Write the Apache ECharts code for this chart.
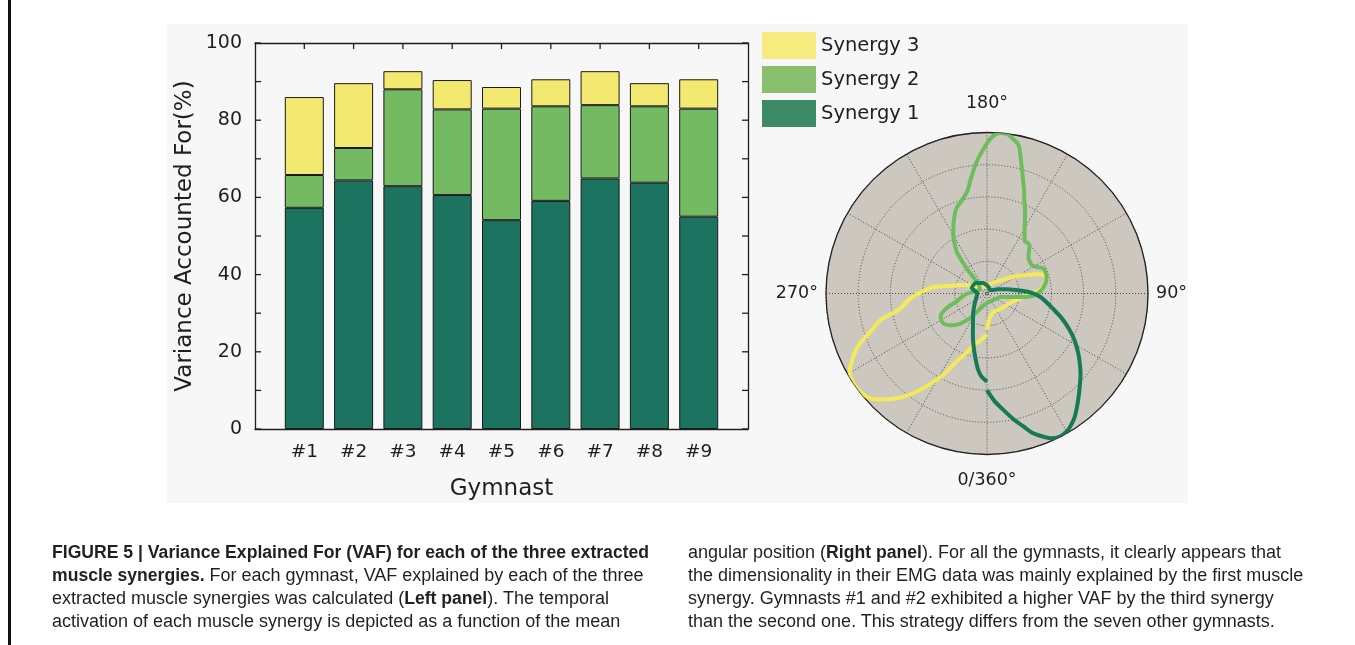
<!DOCTYPE html>
<html><head><meta charset="utf-8">
<script src="https://cdn.jsdelivr.net/npm/echarts@6/dist/echarts.min.js"></script>
<style>
html,body{margin:0;padding:0;background:#fff;}
#wrap{position:relative;width:1355px;height:645px;overflow:hidden;}
#c{position:absolute;left:0;top:0;width:1355px;height:645px;}
.cap{position:absolute;white-space:nowrap;font-family:'Liberation Sans',Arial,sans-serif;font-size:18px;color:#231f20;line-height:23px;}
.cap b{font-size:17.6px;}
</style>
</head><body><div id="wrap"><div id="c"></div><div id="caption"></div></div>
<script>
// ---- bar chart data (VAF %, stacked segments) ----
const gymnasts = ['#1','#2','#3','#4','#5','#6','#7','#8','#9'];
const synergy1 = [57.3, 64.4, 62.9, 60.6, 54.1, 59.1, 64.9, 63.8, 55.0];
const synergy2 = [8.5, 8.4, 25.1, 22.2, 28.9, 24.5, 19.0, 19.8, 28.0];
const synergy3 = [20.2, 16.8, 4.7, 7.6, 5.6, 7.0, 8.8, 6.0, 7.6];
// inward tick positions of the frame (value units)
const yTickValues = [0, 10, 20, 30, 40, 50, 60, 70, 80, 90, 100];
const xTickValues = [1, 2, 3, 4, 5, 6, 7, 8, 9];

// ---- polar panel: temporal activation vs mean angular position ----
const angleTickLabels = {0: '0/360°', 90: '90°', 180: '180°', 270: '270°'};
const s1Angle = [0,4,8,12,15,18,21,24,27,30,32,35,38,41,45,49,53,57,62,67,72,77,82,86,90,93,97,102,110,120,135,150,165,180,200,225,250,270,290,310,325,335,341,346,350,353,356,360];
const s1Radius = [0.60,0.67,0.73,0.80,0.85,0.91,0.95,0.985,0.998,0.99,0.975,0.945,0.905,0.865,0.815,0.77,0.722,0.675,0.615,0.55,0.485,0.42,0.37,0.335,0.29,0.245,0.18,0.125,0.075,0.045,0.03,0.03,0.04,0.05,0.07,0.095,0.1,0.06,0.07,0.1,0.15,0.205,0.27,0.342,0.41,0.47,0.515,0.548];
const s2Angle = [0,20,40,60,75,81,84,86,92,100,106,114,118,122,126,130,134,138,141,144,148,151,155,158,160,163,165,168,171,173,175.5,178,180,184.5,188,191,195,200,205,210,213,216,218,219,221,225,240,260,270,278,284,288,292,296,301,306,311,316,320,325,330,337,345,352,360];
const s2Radius = [0.06,0.055,0.055,0.065,0.085,0.14,0.207,0.268,0.33,0.37,0.385,0.383,0.35,0.33,0.33,0.337,0.36,0.395,0.404,0.40,0.44,0.484,0.56,0.62,0.673,0.76,0.827,0.943,0.98,1.0,1.0,0.975,0.933,0.821,0.72,0.645,0.6,0.56,0.49,0.419,0.37,0.32,0.24,0.2,0.1,0.07,0.05,0.07,0.12,0.16,0.19,0.24,0.29,0.32,0.33,0.325,0.3,0.27,0.235,0.19,0.14,0.1,0.075,0.065,0.06];
const s3Angle = [0,3,10,20,40,60,70,78,85,90,94,100,104,108,112,116,120,126,132,140,150,165,180,200,220,235,245,252,258,263,268,274,280,284,288,292,296,300,304,308,312,316,320,324,328,332,336,341,346,350,355,360];
const s3Radius = [0.227,0.175,0.14,0.12,0.127,0.142,0.16,0.19,0.23,0.28,0.335,0.365,0.38,0.37,0.32,0.26,0.22,0.16,0.125,0.1,0.075,0.055,0.045,0.045,0.055,0.08,0.125,0.17,0.23,0.33,0.4,0.48,0.55,0.68,0.76,0.86,0.93,0.985,1.0,0.995,0.975,0.915,0.845,0.76,0.66,0.57,0.46,0.39,0.32,0.305,0.275,0.255];

// ---- caption ----
const captionLeft = [
  '<b>FIGURE 5 | Variance Explained For (VAF) for each of the three extracted</b>',
  '<b>muscle synergies.</b> For each gymnast, VAF explained by each of the three',
  'extracted muscle synergies was calculated (<b>Left panel</b>). The temporal',
  'activation of each muscle synergy is depicted as a function of the mean'
];
const captionRight = [
  'angular position (<b>Right panel</b>). For all the gymnasts, it clearly appears that',
  'the dimensionality in their EMG data was mainly explained by the first muscle',
  'synergy. Gymnasts #1 and #2 exhibited a higher VAF by the third synergy',
  'than the second one. This strategy differs from the seven other gymnasts.'
];

const cap = document.getElementById('caption');
function addCol(lines, x) {
  lines.forEach((t, i) => {
    const d = document.createElement('div');
    d.className = 'cap';
    d.style.left = x + 'px';
    d.style.top = (541 + 23 * i) + 'px';
    d.innerHTML = t;
    cap.appendChild(d);
  });
}
addCol(captionLeft, 52);
addCol(captionRight, 688);

const FONT = "'DejaVu Sans', sans-serif";
const INK = '#1e1e1e';
const colS1 = '#1c735f', colS2 = '#74ba63', colS3 = '#f4e970';
const lineS1 = '#177a57', lineS2 = '#6dbd5c', lineS3 = '#f3ea5a';

const zip = (a, r) => a.map((ang, i) => [r[i], ang]);

const axisLineStyle = {color: INK, width: 1.3};
const frameLine = {show: true, onZero: false, lineStyle: axisLineStyle};
const barItem = (c) => ({color: c, borderColor: '#1a1a1a', borderWidth: 1});
const TICK = 6;

// frame spans 0..10 gymnast units; bars occupy the inner 1..9 positions
const frame = {left: 255, right: 607, top: 43, bottom: 216};
const unit = (1355 - frame.left - frame.right) / 10;
const inner = {left: frame.left + unit / 2, right: frame.right + unit / 2, top: 43, bottom: 216};

const tickStyle = {stroke: INK, lineWidth: 1.3};

const option = {
  backgroundColor: '#ffffff',
  animation: false,
  graphic: [
    {type: 'rect', z: -100, shape: {x: 167, y: 24, width: 1021, height: 479}, style: {fill: '#f7f7f7'}},
    {type: 'rect', z: -100, shape: {x: 8, y: 0, width: 3, height: 645}, style: {fill: '#111'}},
    {type: 'circle', z: -90, shape: {cx: 987, cy: 293.5, r: 161}, style: {fill: '#cdc8bf'}}
  ],
  legend: {
    orient: 'vertical', left: 757, top: 27,
    itemWidth: 54, itemHeight: 27, itemGap: 7, icon: 'rect',
    textStyle: {fontFamily: FONT, fontSize: 19.5, color: INK},
    data: [
      {name: 'Synergy 3', itemStyle: {color: '#f7ec80', borderWidth: 0}},
      {name: 'Synergy 2', itemStyle: {color: '#88c06f', borderWidth: 0}},
      {name: 'Synergy 1', itemStyle: {color: '#3c8a66', borderWidth: 0}}
    ]
  },
  grid: [
    Object.assign({}, frame),
    Object.assign({}, inner)
  ],
  xAxis: [
    {
      gridIndex: 0, type: 'value', min: 0, max: 10, interval: 1, position: 'bottom',
      axisLine: frameLine,
      axisTick: {show: false},
      axisLabel: {show: false},
      splitLine: {show: false},
      name: 'Gymnast', nameLocation: 'middle', nameGap: 49,
      nameTextStyle: {fontFamily: FONT, fontSize: 23, color: INK}
    },
    {
      gridIndex: 0, type: 'value', min: 0, max: 10, interval: 1, position: 'top',
      axisLine: frameLine,
      axisTick: {show: false},
      axisLabel: {show: false}, splitLine: {show: false}
    },
    {
      gridIndex: 1, type: 'category', data: gymnasts, position: 'bottom',
      axisLine: {show: false}, axisTick: {show: false},
      axisLabel: {fontFamily: FONT, fontSize: 18.5, color: INK, margin: 14},
      splitLine: {show: false}
    }
  ],
  yAxis: [
    {
      gridIndex: 0, type: 'value', min: 0, max: 100, interval: 20, position: 'left',
      axisLine: frameLine,
      axisTick: {show: false},
      axisLabel: {fontFamily: FONT, fontSize: 19, color: INK, margin: 13},
      splitLine: {show: false},
      name: 'Variance Accounted For(%)', nameLocation: 'middle', nameGap: 58,
      nameTextStyle: {fontFamily: FONT, fontSize: 23, color: INK}
    },
    {
      gridIndex: 0, type: 'value', min: 0, max: 100, interval: 20, position: 'right',
      axisLine: frameLine,
      axisTick: {show: false},
      axisLabel: {show: false}, splitLine: {show: false}
    },
    {
      gridIndex: 1, type: 'value', min: 0, max: 100, show: false
    }
  ],
  polar: {center: [987, 293.5], radius: 161},
  angleAxis: {
    type: 'value', min: 0, max: 360, interval: 30, startAngle: 270, clockwise: false,
    axisLine: {show: true, lineStyle: {color: '#222', width: 1.3}},
    axisTick: {show: false},
    splitLine: {show: true, lineStyle: {color: '#4a4640', type: [1, 2], width: 1}},
    axisLabel: {
      margin: 8, fontFamily: FONT, fontSize: 17.5, color: INK,
      formatter: v => {
        if (v === 180) return '{t|' + angleTickLabels[v] + '}';
        if (v === 0) return '{b|' + angleTickLabels[v] + '}';
        return angleTickLabels[v] && v !== 360 ? angleTickLabels[v] : '';
      },
      rich: {
        t: {fontFamily: FONT, fontSize: 17.5, color: INK, padding: [0, 0, 12, 0]},
        b: {fontFamily: FONT, fontSize: 17.5, color: INK, padding: [9, 0, 0, 0]}
      }
    }
  },
  radiusAxis: {
    type: 'value', min: 0, max: 1, interval: 0.2,
    axisLine: {show: false}, axisTick: {show: false}, axisLabel: {show: false},
    splitLine: {show: true, lineStyle: {color: '#4a4640', type: [1, 2], width: 1}},
    splitArea: {show: false}
  },
  series: [
    {name: 'Synergy 1', type: 'bar', stack: 'vaf', xAxisIndex: 2, yAxisIndex: 2, barWidth: 39,
     data: synergy1, itemStyle: barItem(colS1)},
    {name: 'Synergy 2', type: 'bar', stack: 'vaf', xAxisIndex: 2, yAxisIndex: 2, barWidth: 39,
     data: synergy2, itemStyle: barItem(colS2)},
    {name: 'Synergy 3', type: 'bar', stack: 'vaf', xAxisIndex: 2, yAxisIndex: 2, barWidth: 39,
     data: synergy3, itemStyle: barItem(colS3)},
    // inward ticks on left and right frame axes (through the frame's scales)
    {
      name: 'yTicks', type: 'custom', xAxisIndex: 0, yAxisIndex: 0, silent: true, clip: false, z: 6,
      data: yTickValues.map(v => [0, v]),
      renderItem: (params, api) => {
        const v = api.value(1);
        const l = api.coord([0, v]);
        const r = api.coord([10, v]);
        return {type: 'group', children: [
          {type: 'line', shape: {x1: l[0], y1: l[1], x2: l[0] + TICK, y2: l[1]}, style: tickStyle},
          {type: 'line', shape: {x1: r[0] - TICK, y1: r[1], x2: r[0], y2: r[1]}, style: tickStyle}
        ]};
      }
    },
    // inward ticks on the top frame axis
    {
      name: 'xTicks', type: 'custom', xAxisIndex: 0, yAxisIndex: 0, silent: true, clip: false, z: 6,
      data: xTickValues.map(v => [v, 100]),
      renderItem: (params, api) => {
        const t = api.coord([api.value(0), 100]);
        return {type: 'line', shape: {x1: t[0], y1: t[1], x2: t[0], y2: t[1] + TICK}, style: tickStyle};
      }
    },
    {name: 'Synergy 3', type: 'line', coordinateSystem: 'polar', showSymbol: false, smooth: 0.25,
     data: zip(s3Angle, s3Radius), lineStyle: {color: lineS3, width: 4}, itemStyle: {color: lineS3}, z: 3},
    {name: 'Synergy 2', type: 'line', coordinateSystem: 'polar', showSymbol: false, smooth: 0.25,
     data: zip(s2Angle, s2Radius), lineStyle: {color: lineS2, width: 4}, itemStyle: {color: lineS2}, z: 4},
    {name: 'Synergy 1', type: 'line', coordinateSystem: 'polar', showSymbol: false, smooth: 0.25,
     data: zip(s1Angle, s1Radius), lineStyle: {color: lineS1, width: 4}, itemStyle: {color: lineS1}, z: 5}
  ]
};

const chart = echarts.init(document.getElementById('c'), null, {renderer: 'canvas'});
chart.setOption(option);
</script>
</body></html>
